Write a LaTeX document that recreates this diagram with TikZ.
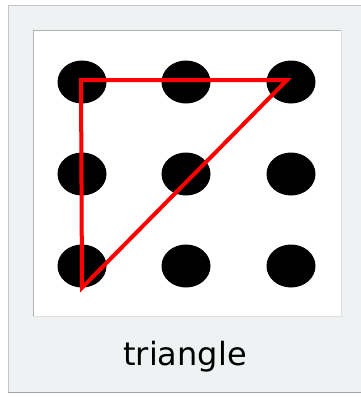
\documentclass[tikz,border=0pt]{standalone}
\usepackage{fontspec}
\usetikzlibrary{shapes.geometric}
\newfontfamily\labelfont{DejaVu Sans}
\definecolor{framegray}{HTML}{EEF2F3}
\definecolor{lineRed}{HTML}{FF0000}
\begin{document}
\begin{tikzpicture}[x=1pt, y=-1pt,
    dot/.style={ellipse, fill=black, minimum width=49pt, minimum height=43pt, inner sep=0pt},
    every node/.style={font=\labelfont}]

    % 画像サイズ
    \useasboundingbox (0, 0) rectangle (361, 397);
    \clip (0, 0) rectangle (361, 397);

    % ポラロイドの枠
    \fill[framegray] (8, 5) rectangle (370, 393);
    \draw[gray!45, line width=1pt] (8.5, 393) -- (8.5, 5.5) -- (370, 5.5);
    \draw[gray!70, line width=1.2pt] (8, 392.5) -- (370, 392.5);

    % 写真部分
    \fill[white] (33, 30) rectangle (341, 316);
    \draw[gray!60, line width=0.8pt] (33, 316) -- (33, 30) -- (341, 30);
    \draw[gray!25, line width=0.6pt] (33, 316) -- (341, 316) -- (341, 30);

    % 3x3 の点
    \foreach \r/\y in {1/82, 2/174, 3/266} {
        \foreach \c/\x in {1/82, 2/186, 3/291} {
            \node[dot] (d\r\c) at (\x, \y) {};
        }
    }

    % 三角形の頂点
    \coordinate (tl) at (81, 80);
    \coordinate (tr) at (287, 80);
    \coordinate (bl) at (d31.south);

    % 赤い三角形
    \draw[lineRed, line width=4pt, line join=miter] (tl) -- (tr) -- (bl) -- cycle;

    % ラベル
    \node[anchor=base, font=\labelfont\fontsize{32}{32}\selectfont] (lbl) at (185, 365) {triangle};

\end{tikzpicture}
\end{document}
